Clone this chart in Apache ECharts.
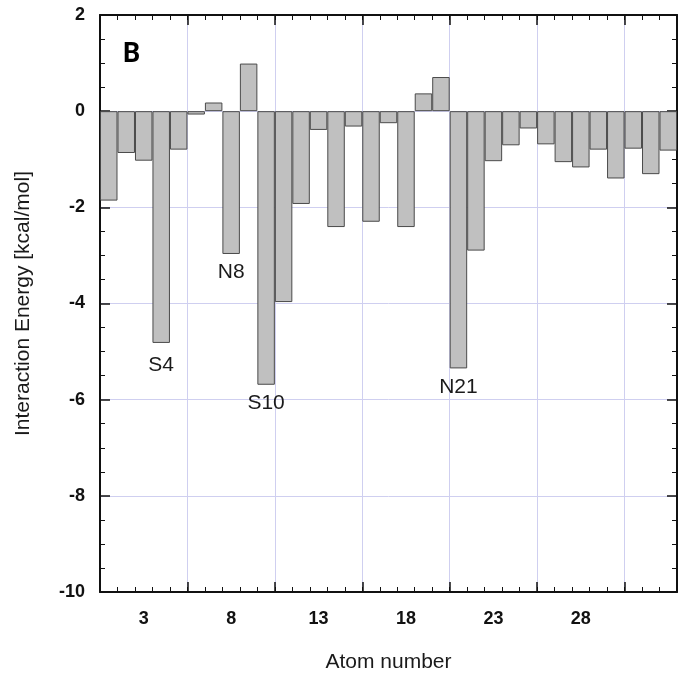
<!DOCTYPE html>
<html>
<head>
    <meta charset="utf-8">
    <title>Interaction Energy</title>
    <script src="https://cdn.jsdelivr.net/npm/echarts@6/dist/echarts.min.js"></script>
    <style>
        html, body { margin: 0; padding: 0; background: #fff; }
        #main { width: 688px; height: 679px; }
    </style>
</head>
<body>
<div id="main"></div>
<script>
    // atom numbers 1..33
    var atoms = ['1','2','3','4','5','6','7','8','9','10','11','12','13','14','15','16','17',
                 '18','19','20','21','22','23','24','25','26','27','28','29','30','31','32','33'];
    // interaction energy per atom, kcal/mol
    var energy = [-1.86, -0.87, -1.03, -4.82, -0.80, -0.07, 0.18, -2.97, 0.99, -5.69, -3.97,
                  -1.93, -0.39, -2.41, -0.32, -2.30, -0.25, -2.41, 0.37, 0.71, -5.35, -2.90,
                  -1.04, -0.71, -0.36, -0.69, -1.06, -1.17, -0.80, -1.40, -0.78, -1.31, -0.82];
    // annotated atoms
    var notes = [
        { atom: '4', text: 'S4' },
        { atom: '8', text: 'N8' },
        { atom: '10', text: 'S10' },
        { atom: '21', text: 'N21' }
    ];

    var gridColor = '#cfcff0';
    var font = 'Liberation Sans, Arial, sans-serif';

    var barData = energy.map(function (v, i) {
        var item = { value: v };
        notes.forEach(function (n) {
            if (n.atom === atoms[i]) {
                item.label = {
                    show: true,
                    position: 'bottom',
                    distance: n.atom === '4' ? 12 : 8,
                    formatter: n.text
                };
            }
        });
        return item;
    });

    function majorIdx(i) { return i > 0 && i % 5 === 0; }

    var chart = echarts.init(document.getElementById('main'));
    var option = {
        animation: false,
        backgroundColor: '#fff',
        graphic: [{
            type: 'text',
            left: 123,
            top: 42,
            style: { text: 'B', fill: '#000', font: 'bold 27px Roboto, sans-serif' }
        }],
        grid: { left: 100, right: 11, top: 15, bottom: 87, outerBoundsMode: 'none' },
        xAxis: [
            {   // bottom: minor ticks + labels
                type: 'category', position: 'bottom', data: atoms, boundaryGap: true,
                name: 'Atom number', nameLocation: 'middle', nameGap: 60,
                nameTextStyle: { fontFamily: font, fontSize: 21, color: '#1a1a1a' },
                axisLine: { onZero: false, lineStyle: { color: '#111', width: 2 } },
                axisTick: { show: true, inside: true, length: 5, interval: 0, lineStyle: { color: '#111', width: 1 } },
                axisLabel: {
                    margin: 18, fontFamily: font, fontWeight: 'bold', fontSize: 18, color: '#111',
                    interval: function (i) { return i <= 27 && (i - 2) % 5 === 0; }
                },
                splitLine: { show: true, interval: majorIdx, lineStyle: { color: gridColor, width: 1 } }
            },
            {   // bottom: major ticks
                type: 'category', position: 'bottom', data: atoms, boundaryGap: true,
                axisLine: { show: false, onZero: false },
                axisTick: { show: true, inside: true, length: 10, interval: majorIdx, lineStyle: { color: '#111', width: 1.5 } },
                axisLabel: { show: false },
                splitLine: { show: false }
            },
            {   // top: minor ticks
                type: 'category', position: 'top', data: atoms, boundaryGap: true,
                axisLine: { onZero: false, lineStyle: { color: '#111', width: 2 } },
                axisTick: { show: true, inside: true, length: 5, interval: 0, lineStyle: { color: '#111', width: 1 } },
                axisLabel: { show: false },
                splitLine: { show: false }
            },
            {   // top: major ticks
                type: 'category', position: 'top', data: atoms, boundaryGap: true,
                axisLine: { show: false, onZero: false },
                axisTick: { show: true, inside: true, length: 10, interval: majorIdx, lineStyle: { color: '#111', width: 1.5 } },
                axisLabel: { show: false },
                splitLine: { show: false }
            }
        ],
        yAxis: [
            {
                type: 'value', position: 'left', min: -10, max: 2, interval: 2,
                name: 'Interaction Energy [kcal/mol]', nameLocation: 'middle', nameGap: 66,
                nameTextStyle: { fontFamily: font, fontSize: 21, color: '#1a1a1a' },
                axisLine: { show: true, onZero: false, lineStyle: { color: '#111', width: 2 } },
                axisTick: { show: true, inside: true, length: 10, lineStyle: { color: '#111', width: 1.5 } },
                minorTick: { show: true, splitNumber: 4, length: 5, lineStyle: { color: '#111', width: 1 } },
                axisLabel: { margin: 15, fontFamily: font, fontWeight: 'bold', fontSize: 18, color: '#111' },
                splitLine: { show: true, lineStyle: { color: gridColor, width: 1 } }
            },
            {
                type: 'value', position: 'right', min: -10, max: 2, interval: 2,
                axisLine: { show: true, onZero: false, lineStyle: { color: '#111', width: 2 } },
                axisTick: { show: true, inside: true, length: 10, lineStyle: { color: '#111', width: 1.5 } },
                minorTick: { show: true, splitNumber: 4, length: 5, lineStyle: { color: '#111', width: 1 } },
                axisLabel: { show: false },
                splitLine: { show: false }
            }
        ],
        series: [
            {
                type: 'bar',
                xAxisIndex: 0,
                yAxisIndex: 0,
                data: barData,
                barCategoryGap: '0%',
                itemStyle: { color: '#c0c0c0', borderColor: '#4a4a4a', borderWidth: 1 },
                label: { show: false, fontFamily: font, fontSize: 21, color: '#1a1a1a' }
            }
        ]
    };
    chart.setOption(option);
</script>
</body>
</html>
